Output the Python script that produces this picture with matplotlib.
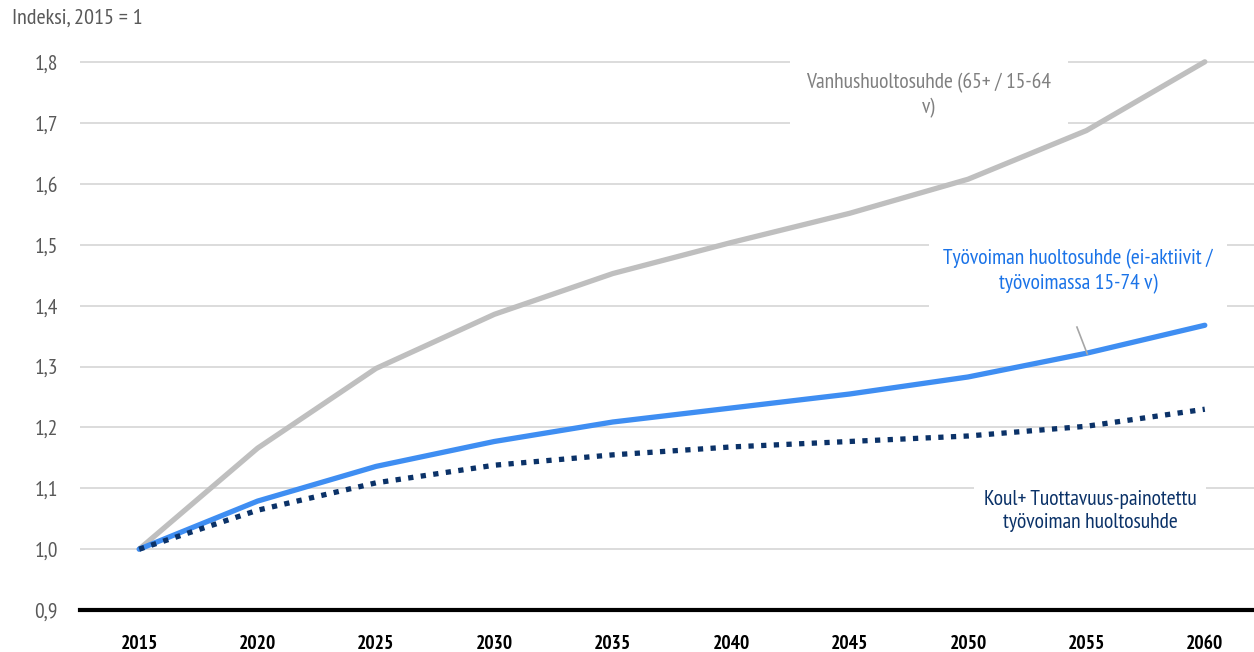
import matplotlib.pyplot as plt

plt.rcParams['font.family'] = ['PT Sans Narrow', 'DejaVu Sans']

years = ['2015', '2020', '2025', '2030', '2035', '2040', '2045', '2050', '2055', '2060']
vanhus = [1.0, 1.166, 1.297, 1.386, 1.453, 1.504, 1.552, 1.608, 1.688, 1.801]
tyovoima = [1.0, 1.079, 1.136, 1.177, 1.209, 1.232, 1.255, 1.283, 1.322, 1.368]
koul = [1.0, 1.064, 1.109, 1.138, 1.155, 1.168, 1.177, 1.186, 1.202, 1.230]
yticks = [0.9, 1.0, 1.1, 1.2, 1.3, 1.4, 1.5, 1.6, 1.7, 1.8]

fig = plt.figure(figsize=(12.54, 6.52), dpi=100)
ax = fig.add_axes([80 / 1254, 42 / 652, 1184 / 1254, 578 / 652])

x = range(len(years))
ax.plot(x, vanhus, color='#bfbfbf', lw=3.8, solid_capstyle='round', zorder=3)
ax.plot(x, tyovoima, color='#3f8ef2', lw=3.8, solid_capstyle='round', zorder=4)
ax.plot(x, koul, color='#0b3268', lw=3.8, dashes=(1, 1.4), dash_capstyle='butt', zorder=5)

ax.set_xlim(-0.5, 9.5)
ax.set_ylim(0.9, 1.85)
ax.set_yticks(yticks)
ax.set_yticklabels([f'{v:.1f}'.replace('.', ',') for v in yticks])
ax.set_xticks(list(x))
ax.set_xticklabels(years, fontweight='bold')
ax.grid(axis='y', color='#d9d9d9', lw=1.3, zorder=0)
ax.set_axisbelow(True)
for s in ['top', 'right', 'left']:
    ax.spines[s].set_visible(False)
ax.spines['bottom'].set_linewidth(3)
ax.spines['bottom'].set_color('black')
ax.spines['bottom'].set_zorder(6)
ax.tick_params(axis='both', length=0)
ax.tick_params(axis='y', colors='#595959', pad=16, labelsize=15.5)
ax.tick_params(axis='x', colors='black', pad=18, labelsize=14)

ax.text(6.67, 1.746, 'Vanhushuoltosuhde (65+ / 15-64\nv)', color='#808080', fontsize=15.5,
        ha='center', va='center', linespacing=1.3, zorder=7,
        bbox=dict(facecolor='white', edgecolor='none', pad=12))
ax.text(7.93, 1.456, 'Työvoiman huoltosuhde (ei-aktiivit /\ntyövoimassa 15-74 v)', color='#1a73e8',
        fontsize=15.5, ha='center', va='center', linespacing=1.3, zorder=7,
        bbox=dict(facecolor='white', edgecolor='none', pad=10))
ax.text(8.03, 1.063, 'Koul+ Tuottavuus-painotettu\ntyövoiman huoltosuhde', color='#0b3268',
        fontsize=15.5, ha='center', va='center', linespacing=1.3, zorder=7,
        bbox=dict(facecolor='white', edgecolor='none', pad=7))
ax.plot([7.92, 8.007], [1.365, 1.321], color='#a6a6a6', lw=1.2, zorder=6)

fig.text(12 / 1254, 1 - 18 / 652, 'Indeksi, 2015 = 1', color='#595959', fontsize=16, va='center')

fig.savefig('out.png', dpi=100)
